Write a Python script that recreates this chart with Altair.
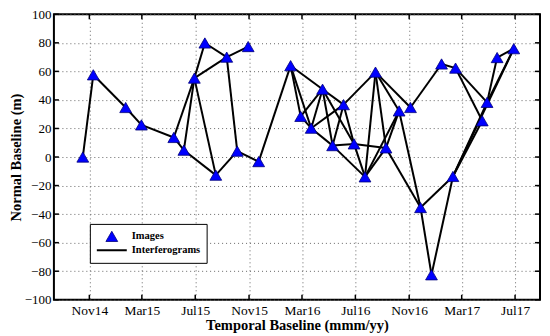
import altair as alt
import pandas as pd

# acquisition dates (images) and their normal baselines (m)
dates = [
    "2014-10-17", "2014-11-10", "2015-01-23", "2015-02-28", "2015-05-13",
    "2015-06-05", "2015-06-29", "2015-07-23", "2015-08-17", "2015-09-11",
    "2015-10-05", "2015-10-30", "2015-11-23", "2016-02-04", "2016-02-27",
    "2016-03-22", "2016-04-17", "2016-05-10", "2016-06-04", "2016-06-28",
    "2016-07-23", "2016-08-16", "2016-09-09", "2016-10-09", "2016-11-04",
    "2016-11-27", "2016-12-22", "2017-01-14", "2017-02-09", "2017-02-15",
    "2017-04-17", "2017-04-28", "2017-05-21", "2017-06-28",
]
baselines = [
    0.0, 57.6, 34.7, 22.5, 13.7,
    4.8, 55.3, 79.9, -12.7, 70.0,
    4.1, 77.4, -3.2, 64.0, 28.5,
    20.2, 47.5, 8.0, 36.7, 9.2,
    -13.9, 59.5, 6.4, 32.3, 34.7,
    -35.4, -82.5, 65.2, -13.6, 62.3,
    25.4, 38.3, 69.7, 75.9,
]

# interferogram pairs (1-based image indices)
pair_master = [1, 2, 3, 4, 5, 5, 6, 6, 7, 7, 7, 8, 9, 10, 10, 11, 13,
               14, 14, 14, 15, 15, 16, 16, 16, 17, 17, 17, 18, 18, 19, 18, 20,
               19, 21, 22, 22, 22, 20, 21, 21, 23, 23, 24, 25, 26, 26, 27,
               28, 30, 30, 29, 29, 29, 32, 33, 32]
pair_slave = [2, 3, 4, 5, 6, 7, 7, 9, 8, 9, 10, 10, 11, 11, 12, 13, 14,
              15, 16, 17, 17, 16, 17, 18, 19, 18, 19, 20, 19, 20, 20, 21, 21,
              22, 22, 23, 24, 25, 23, 23, 24, 24, 26, 26, 28, 27, 29, 29,
              30, 31, 32, 31, 32, 34, 33, 34, 34]

x_tick_dates = ["2014-11-01", "2015-03-01", "2015-07-01", "2015-11-01",
                "2016-03-01", "2016-07-01", "2016-11-01", "2017-03-01",
                "2017-07-01"]
y_tick_values = [-100, -80, -60, -40, -20, 0, 20, 40, 60, 80, 100]
legend_labels = ["Images", "Interferograms"]

pts = pd.DataFrame({"date": dates, "baseline": baselines, "kind": "Images"})
edges = pd.DataFrame({
    "date": [dates[i - 1] for i in pair_master],
    "baseline": [baselines[i - 1] for i in pair_master],
    "date2": [dates[i - 1] for i in pair_slave],
    "baseline2": [baselines[i - 1] for i in pair_slave],
})
xt = pd.DataFrame({"date": x_tick_dates})
yt = pd.DataFrame({"baseline": y_tick_values})

W, H = 487, 286
SERIF = "Liberation Serif, Times New Roman, Times, serif"

x_enc = alt.X(
    "date:T",
    scale=alt.Scale(type="utc", domain=[
        alt.DateTime(year=2014, month=8, date=12, utc=True),
        alt.DateTime(year=2017, month=8, date=27, utc=True)]),
    axis=alt.Axis(
        values=[alt.DateTime(year=int(d[:4]), month=int(d[5:7]), date=1, utc=True)
                for d in x_tick_dates],
        labelExpr="utcFormat(datum.value, '%b%y')",
        title="Temporal Baseline (mmm/yy)",
    ),
)
y_enc = alt.Y(
    "baseline:Q",
    scale=alt.Scale(domain=[-100, 100], nice=False),
    axis=alt.Axis(values=y_tick_values, title="Normal Baseline (m)"),
)

edge_layer = alt.Chart(edges).mark_rule(color="black", strokeWidth=2).encode(
    x=x_enc, y=y_enc, x2="date2:T", y2="baseline2:Q"
)

leg = alt.Legend(
    orient="none", legendX=36, legendY=210, title=None,
    padding=6, strokeColor="black", fillColor="white",
    labelFont=SERIF, labelFontWeight="bold", labelFontSize=10.5,
    labelColor="black", labelOffset=4, rowPadding=1, clipHeight=13,
    cornerRadius=0,
)
pt_layer = alt.Chart(pts).mark_point(opacity=1).encode(
    x=x_enc, y=y_enc,
    fill=alt.Fill("kind:N", scale=alt.Scale(domain=legend_labels, range=["#0000ff", "transparent"]), legend=leg),
    stroke=alt.Stroke("kind:N", scale=alt.Scale(domain=legend_labels, range=["#00007a", "#000000"]), legend=leg),
    shape=alt.Shape("kind:N", scale=alt.Scale(domain=legend_labels, range=["triangle-up", "stroke"]), legend=leg),
    size=alt.Size("kind:N", scale=alt.Scale(domain=legend_labels, range=[140, 900]), legend=leg),
    strokeWidth=alt.StrokeWidth("kind:N", scale=alt.Scale(domain=legend_labels, range=[0.8, 2]), legend=leg),
)

tick_bottom = alt.Chart(xt).mark_rule(color="black", strokeWidth=1.5).encode(
    x=x_enc, y=alt.value(H), y2=alt.value(H - 5))
tick_top = alt.Chart(xt).mark_rule(color="black", strokeWidth=1.5).encode(
    x=x_enc, y=alt.value(0), y2=alt.value(5))
tick_left = alt.Chart(yt).mark_rule(color="black", strokeWidth=1.5).encode(
    y=y_enc, x=alt.value(0), x2=alt.value(5))
tick_right = alt.Chart(yt).mark_rule(color="black", strokeWidth=1.5).encode(
    y=y_enc, x=alt.value(W - 5), x2=alt.value(W))

chart = alt.layer(
    edge_layer, tick_bottom, tick_top, tick_left, tick_right, pt_layer
).properties(
    width=W, height=H,
    autosize=alt.AutoSizeParams(type="none"),
    padding={"left": 46, "top": 6, "right": 2, "bottom": 36},
    background="white",
).configure_axis(
    grid=True, gridDash=[1, 3], gridColor="#666666", gridWidth=1,
    domain=False, ticks=False, tickSize=0,
    labelFont=SERIF, labelFontSize=13, labelColor="black",
    titleFont=SERIF, titleFontSize=14.5, titleFontWeight="bold",
    titleColor="black",
).configure_axisX(labelPadding=4, titlePadding=1, labelFontSize=13.5).configure_axisY(
    labelPadding=3, titlePadding=1
).configure_view(stroke="black", strokeWidth=2)

chart.save("out.html", embed_options={"renderer": "svg", "actions": False})
